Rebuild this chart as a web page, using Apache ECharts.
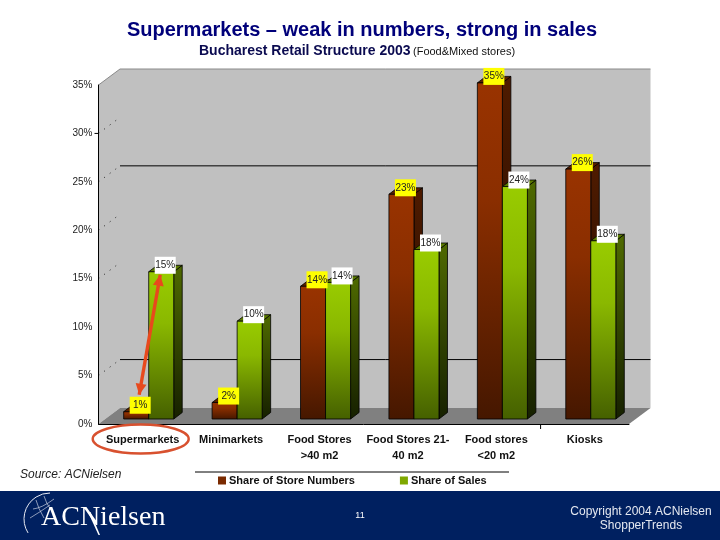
<!DOCTYPE html>
<html><head><meta charset="utf-8">
<style>html,body{margin:0;padding:0;background:#fff}#c{width:720px;height:540px}</style>
<script src="https://cdn.jsdelivr.net/npm/echarts@6/dist/echarts.min.js"></script>
</head><body><div id="c"></div>
<script>
var categories = ['Supermarkets','Minimarkets','Food Stores\n>40 m2','Food Stores 21-\n40 m2','Food stores\n<20 m2','Kiosks'];
var storeShare = [0.75,1.7,13.7,23.2,34.7,25.8];
var salesShare = [15.2,10.1,14.1,17.5,24.0,18.4];
var wallGridValues = [5,25];
var wallDotValues = [5,15,20,25,30];
var FONT = '"Liberation Sans", Arial, sans-serif';

var depthX = 21.5, depthY = -16;      // wall depth
var planeX = 6, planeY = -5;          // front plane of the bars inside the floor
var barDX = 8.5, barDY = -6.5;        // bar depth

function grad(stops){return {type:'linear',x:0,y:0,x2:0,y2:1,colorStops:stops.map(function(s){return {offset:s[0],color:s[1]};})};}
var faces = {
  store:{front:grad([[0,'#993300'],[0.35,'#8a2e00'],[1,'#451700']]),side:grad([[0,'#4f1b00'],[1,'#1c0900']]),top:'#5a2000'},
  sales:{front:grad([[0,'#99cc00'],[0.35,'#8ab800'],[1,'#456000']]),side:grad([[0,'#4f6a00'],[1,'#162000']]),top:'#5b7a00'}
};

function barItem(kind, slot){
  return function(params, api){
    var idx = api.value(0), val = api.value(1);
    var base = api.coord([idx,0]), top = api.coord([idx,val]);
    var w = api.size([1,0])[0]*0.283;
    var x0 = base[0]+planeX+(slot===0?-w:0), x1 = x0+w;
    var yb = base[1]+planeY, yt = top[1]+planeY;
    var f = faces[kind], line = {stroke:'#000',lineWidth:0.8};
    return {type:'group',children:[
      {type:'polygon',shape:{points:[[x1,yb],[x1+barDX,yb+barDY],[x1+barDX,yt+barDY],[x1,yt]]},style:Object.assign({fill:f.side},line)},
      {type:'polygon',shape:{points:[[x0,yt],[x0+barDX,yt+barDY],[x1+barDX,yt+barDY],[x1,yt]]},style:Object.assign({fill:f.top},line)},
      {type:'rect',shape:{x:x0,y:yt,width:w,height:yb-yt},style:Object.assign({fill:f.front},line)}
    ]};
  };
}
function labelItem(bg, slot){
  return function(params, api){
    var idx = api.value(0), val = api.value(1);
    var base = api.coord([idx,0]), top = api.coord([idx,val]);
    var w = api.size([1,0])[0]*0.283;
    var cx = base[0]+planeX+(slot===0?-w/2:w/2)+4, cy = top[1]+planeY-6.5;
    return {type:'group',children:[
      {type:'rect',shape:{x:cx-10.5,y:cy-8.5,width:21,height:17},style:{fill:bg}},
      {type:'text',style:{x:cx,y:cy,text:Math.round(val)+'%',align:'center',verticalAlign:'middle',fill:'#222',font:'10px '+FONT}}
    ]};
  };
}
function wallItem(params, api){
  var a = api.coord([0,0]), t = api.coord([0,35]);
  var band = api.size([1,0])[0];
  var L = a[0]-band/2, R = L+band*6, B = a[1], T = t[1];
  var k = [
    {type:'polygon',shape:{points:[[L,T],[L+depthX,T+depthY],[R+depthX,T+depthY],[R+depthX,B+depthY],[L+depthX,B+depthY],[L,B]]},style:{fill:'#c0c0c0'}},
    {type:'polygon',shape:{points:[[L,B],[L+depthX,B+depthY],[R+depthX,B+depthY],[R,B]]},style:{fill:'#808080'}},
    {type:'line',shape:{x1:L,y1:T,x2:L+depthX,y2:T+depthY},style:{stroke:'#8a8a8a',lineWidth:1}},
    {type:'line',shape:{x1:L+depthX,y1:T+depthY,x2:R+depthX,y2:T+depthY},style:{stroke:'#8a8a8a',lineWidth:1}}
  ];
  wallGridValues.forEach(function(v){
    var y = api.coord([0,v])[1]+depthY;
    k.push({type:'line',shape:{x1:L+depthX,y1:y,x2:R+depthX,y2:y},style:{stroke:'#000',lineWidth:1}});
  });
  wallDotValues.forEach(function(v){
    var y = api.coord([0,v])[1];
    k.push({type:'line',shape:{x1:L,y1:y,x2:L+depthX,y2:y+depthY},style:{stroke:'#222',lineWidth:1,lineDash:[1,6]}});
  });
  return {type:'group',children:k};
}
function overlayItem(params, api){
  var band = api.size([1,0])[0];
  var a0 = api.coord([0,0]), L = a0[0]-band/2;
  var w = band*0.283;
  // double arrow between the two Supermarkets labels
  var p1 = api.coord([0,storeShare[0]]), p2 = api.coord([0,salesShare[0]]);
  var sx = p1[0]+planeX-w/2+3, sy = p1[1]+planeY-17;
  var ex = p2[0]+planeX+w/2-1, ey = p2[1]+planeY+3;
  var dx = ex-sx, dy = ey-sy, n = Math.sqrt(dx*dx+dy*dy), ux = dx/n, uy = dy/n, hl = 11, hw = 5.5;
  function head(x,y,s){return [[x,y],[x-s*ux*hl-uy*hw,y-s*uy*hl+ux*hw],[x-s*ux*hl+uy*hw,y-s*uy*hl-ux*hw]];}
  var red = '#e8491d';
  return {type:'group',children:[
    {type:'line',shape:{x1:sx,y1:sy,x2:ex,y2:ey},style:{stroke:red,lineWidth:3.4}},
    {type:'polygon',shape:{points:head(ex,ey,1)},style:{fill:red}},
    {type:'polygon',shape:{points:head(sx,sy,-1)},style:{fill:red}},
    {type:'ellipse',shape:{cx:a0[0]-2,cy:a0[1]+15,rx:48,ry:14.5},style:{fill:'none',stroke:'#d8512f',lineWidth:2.4}},
    {type:'line',shape:{x1:L-4,y1:api.coord([0,30])[1],x2:L,y2:api.coord([0,30])[1]},style:{stroke:'#000',lineWidth:1}},
    {type:'line',shape:{x1:L+band*5,y1:a0[1],x2:L+band*5,y2:a0[1]+5},style:{stroke:'#000',lineWidth:1}}
  ]};
}
var idxStore = storeShare.map(function(v,i){return [i,v];});
var idxSales = salesShare.map(function(v,i){return [i,v];});
var navy = '#002060';

var chart = echarts.init(document.getElementById('c'),null,{renderer:'canvas'});
chart.setOption({
  animation:false,
  backgroundColor:'#fff',
  title:[
    {text:'Supermarkets – weak in numbers, strong in sales',left:357,top:15,textAlign:'center',textStyle:{fontFamily:FONT,fontSize:20,fontWeight:'bold',color:'#00007a'}},
    {text:'Bucharest Retail Structure 2003',left:194,top:39,textStyle:{fontFamily:FONT,fontSize:14,fontWeight:'bold',color:'#0a0a50'}},
    {text:'(Food&Mixed stores)',left:408,top:41,textStyle:{fontFamily:FONT,fontSize:11,fontWeight:'normal',color:'#111'}},
    {text:'Source: ACNielsen',left:15,top:464,textStyle:{fontFamily:FONT,fontSize:12,fontStyle:'italic',fontWeight:'normal',color:'#222'}}
  ],
  grid:{left:98.5,top:85,width:530.5,height:339,containLabel:false},
  xAxis:{type:'category',data:categories,z:2,
    axisLine:{lineStyle:{color:'#000',width:1}},axisTick:{show:false},
    axisLabel:{interval:0,margin:8,lineHeight:16,color:'#111',fontFamily:FONT,fontSize:11,fontWeight:'bold'}},
  yAxis:{type:'value',min:0,max:35,interval:5,z:2,
    axisLine:{show:true,lineStyle:{color:'#000',width:1}},axisTick:{show:false},splitLine:{show:false},
    axisLabel:{formatter:'{value}%',margin:6,color:'#222',fontFamily:FONT,fontSize:10}},
  legend:{data:['Share of Store Numbers','Share of Sales'],left:213,top:470,itemWidth:8,itemHeight:8,itemGap:45,icon:'rect',
    textStyle:{fontFamily:FONT,fontSize:11,fontWeight:'bold',color:'#111',padding:[0,0,0,-2]}},
  series:[
    {type:'custom',name:'walls',z:1,data:[[0,0]],renderItem:wallItem,silent:true,encode:{x:0,y:1}},
    {type:'custom',name:'Share of Store Numbers',z:3,data:idxStore,renderItem:barItem('store',0),encode:{x:0,y:1},itemStyle:{color:'#7a2a00'}},
    {type:'custom',name:'Share of Sales',z:4,data:idxSales,renderItem:barItem('sales',1),encode:{x:0,y:1},itemStyle:{color:'#7fa800'}},
    {type:'custom',name:'storeLabels',z:5,data:idxStore,renderItem:labelItem('#ffff00',0),encode:{x:0,y:1}},
    {type:'custom',name:'salesLabels',z:5,data:idxSales,renderItem:labelItem('#ffffff',1),encode:{x:0,y:1}},
    {type:'custom',name:'annot',z:6,data:[[0,0]],renderItem:overlayItem,encode:{x:0,y:1},clip:false}
  ],
  graphic:[
    {type:'line',shape:{x1:195,y1:472,x2:509,y2:472},style:{stroke:'#000',lineWidth:1}},
    {type:'rect',shape:{x:0,y:491,width:720,height:49},style:{fill:navy}},
    {type:'text',style:{x:41,y:504,text:'ACNielsen',fill:'#fff',font:'28px "Liberation Serif", serif'},z:3},
    {type:'polygon',shape:{points:[[88,512],[90.5,512],[100,535],[98.5,535]]},style:{fill:'#fff'},z:3},
    {type:'arc',shape:{cx:50,cy:519,r:26,startAngle:Math.PI*0.82,endAngle:Math.PI*1.5},style:{fill:'none',stroke:'#e6e9f2',lineWidth:1}},
    {type:'bezierCurve',shape:{x1:33,y1:509,cpx1:42,cpy1:508,x2:54,y2:499},style:{fill:'none',stroke:'#c9cfe0',lineWidth:0.7}},
    {type:'bezierCurve',shape:{x1:30,y1:518,cpx1:40,cpy1:512,x2:50,y2:505},style:{fill:'none',stroke:'#c9cfe0',lineWidth:0.7}},
    {type:'bezierCurve',shape:{x1:36,y1:500,cpx1:38,cpy1:508,x2:44,y2:518},style:{fill:'none',stroke:'#c9cfe0',lineWidth:0.7}},
    {type:'bezierCurve',shape:{x1:44,y1:496,cpx1:46,cpy1:503,x2:51,y2:510},style:{fill:'none',stroke:'#c9cfe0',lineWidth:0.7}},
    {type:'text',style:{x:360,y:516,text:'11',align:'center',verticalAlign:'middle',fill:'#fff',font:'9px '+FONT}},
    {type:'text',style:{x:641,y:512,text:'Copyright 2004 ACNielsen',align:'center',verticalAlign:'middle',fill:'#e4e8f0',font:'12px '+FONT}},
    {type:'text',style:{x:641,y:526,text:'ShopperTrends',align:'center',verticalAlign:'middle',fill:'#e4e8f0',font:'12px '+FONT}}
  ]
});
</script></body></html>
